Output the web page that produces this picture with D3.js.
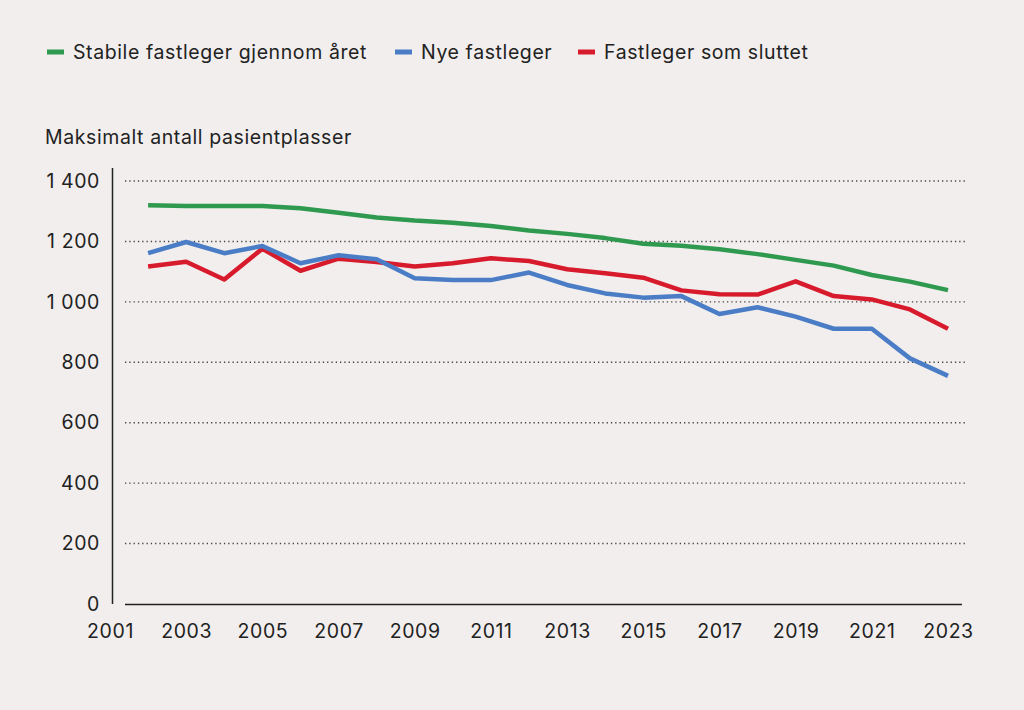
<!DOCTYPE html>
<html>
<head>
<meta charset="utf-8">
<script src="https://cdn.jsdelivr.net/npm/d3@7"></script>
<style>
  html, body { margin: 0; padding: 0; background: #f1eeed; }
  svg { display: block; }
  text { font-family: Inter, Roboto, sans-serif; fill: #222; letter-spacing: 0.6px; }
</style>
</head>
<body>
<div class="svg-div"></div>
<script>
// data
const years = d3.range(2002, 2024);
const stabile = [1320, 1317, 1317, 1317, 1310, 1295, 1279, 1269, 1262, 1251, 1236,
                 1225, 1211, 1192, 1186, 1174, 1158, 1139, 1120, 1089, 1067, 1039];
const nye = [1161, 1198, 1161, 1185, 1128, 1154, 1141, 1078, 1072, 1072, 1097,
             1056, 1028, 1014, 1019, 960, 982, 951, 911, 911, 813, 755];
const sluttet = [1117, 1133, 1074, 1176, 1103, 1143, 1132, 1117, 1128, 1144, 1135,
                 1108, 1095, 1080, 1038, 1025, 1024, 1068, 1019, 1008, 975, 911];
const seriesNames = ["Stabile fastleger gjennom året", "Nye fastleger", "Fastleger som sluttet"];
const colors = ["#2f9a4f", "#4a7dc6", "#d81b2c"];
const yTicks = [0, 200, 400, 600, 800, 1000, 1200, 1400];
const xTicks = d3.range(2001, 2024, 2);
const yTitle = "Maksimalt antall pasientplasser";

const svgWidth = 1024, svgHeight = 710;
const fontSize = "19.5px";

const svg = d3.select(".svg-div").append("svg")
  .attr("width", svgWidth)
  .attr("height", svgHeight);

svg.append("rect").attr("width", svgWidth).attr("height", svgHeight).attr("fill", "#f1eeed");

let x = d3.scaleLinear().domain([2001, 2023]).range([110, 948]);
let y = d3.scaleLinear().domain([0, 1400]).range([604, 181]);

// dotted gridlines
svg.append("g")
  .selectAll("line")
  .data(yTicks.filter(d => d > 0))
  .enter()
  .append("line")
  .attr("x1", 125).attr("x2", 965)
  .attr("y1", d => y(d)).attr("y2", d => y(d))
  .attr("stroke", "#444")
  .attr("stroke-width", 1.4)
  .attr("stroke-dasharray", "1.3,3");

// axis lines
svg.append("line")
  .attr("x1", 112.5).attr("x2", 112.5)
  .attr("y1", 168).attr("y2", y(0))
  .attr("stroke", "#222").attr("stroke-width", 1.5);
svg.append("line")
  .attr("x1", 125).attr("x2", 962)
  .attr("y1", y(0) + 0.5).attr("y2", y(0) + 0.5)
  .attr("stroke", "#222").attr("stroke-width", 1.5);

let xAxis = svg.append("g")
  .attr("transform", "translate(0," + y(0) + ")")
  .call(d3.axisBottom(x).tickValues(xTicks).tickSize(0).tickFormat(d3.format("d")));
xAxis.select(".domain").remove();
xAxis.selectAll("text")
  .attr("y", 20)
  .attr("dy", "0.71em")
  .style("font-size", fontSize)
  .style("font-family", "Inter, sans-serif")
  .attr("fill", "#222");

let yAxis = svg.append("g")
  .attr("transform", "translate(112,0)")
  .call(d3.axisLeft(y).tickValues(yTicks).tickSize(0).tickPadding(12)
    .tickFormat(d => d3.format(",")(d).replace(",", " ")));
yAxis.select(".domain").remove();
yAxis.selectAll("text")
  .style("font-size", fontSize)
  .style("font-family", "Inter, sans-serif")
  .attr("fill", "#222");

svg.append("text")
  .attr("x", 45).attr("y", 144)
  .style("font-size", fontSize)
  .text(yTitle);

// lines
const allSeries = [stabile, nye, sluttet];
let line = d3.line()
  .x((d, i) => x(years[i]))
  .y(d => y(d));

svg.append("g")
  .selectAll("path")
  .data(allSeries.slice().reverse())
  .enter()
  .append("path")
  .attr("d", d => line(d))
  .attr("fill", "none")
  .attr("stroke", (d, i) => colors[2 - i])
  .attr("stroke-width", 4.5)
  .attr("stroke-linejoin", "round");

// legend
const legendX = [47, 395, 578];
let legend = svg.append("g")
  .selectAll("g")
  .data(seriesNames)
  .enter()
  .append("g")
  .attr("transform", (d, i) => "translate(" + legendX[i] + ",52)");
legend.append("rect")
  .attr("x", 0).attr("y", -2.5)
  .attr("width", 17).attr("height", 5)
  .attr("fill", (d, i) => colors[i]);
legend.append("text")
  .attr("x", 26).attr("y", 7)
  .style("font-size", fontSize)
  .text(d => d);
</script>
</body>
</html>
